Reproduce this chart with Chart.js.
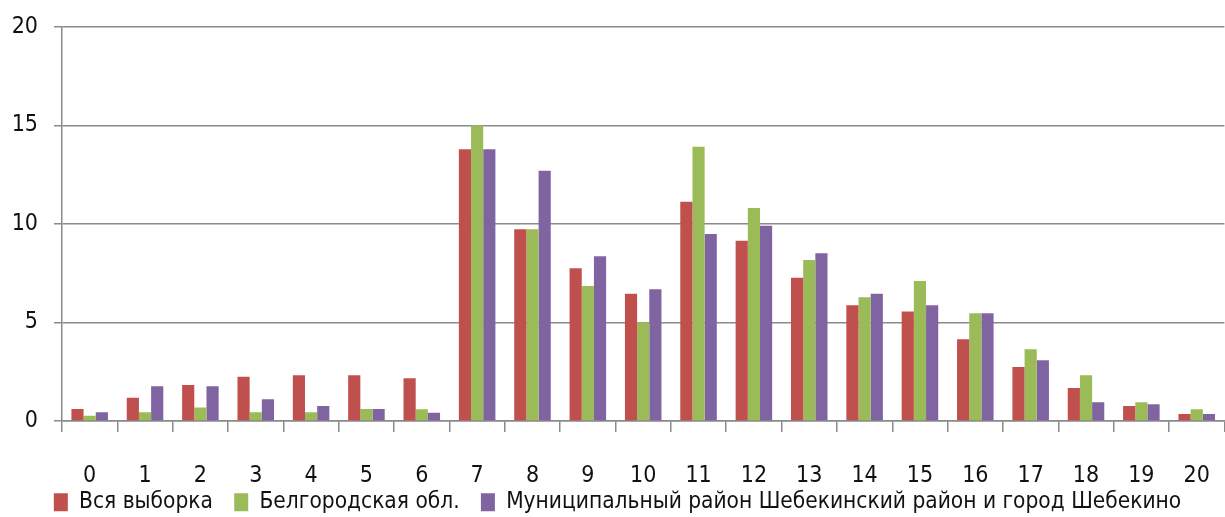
<!DOCTYPE html>
<html lang="ru">
  <head>
    <meta charset="utf-8" />
    <title>Распределение</title>
    <style>
      * {
        margin: 0;
        padding: 0;
      }
      body {
        overflow: hidden;
        background: #fff;
      }
      .chartBox {
        width: 1240px;
        height: 520px;
        margin-top: -3px;
      }
    </style>
  </head>
  <body>
    <div class="chartBox">
      <canvas id="myChart"></canvas>
    </div>

    <script src="https://cdn.jsdelivr.net/npm/chart.js"></script>

    <script>
      // data block
      const labels = ["0", "1", "2", "3", "4", "5", "6", "7", "8", "9", "10",
        "11", "12", "13", "14", "15", "16", "17", "18", "19", "20"];
      const seriesNames = [
        "Вся выборка",
        "Белгородская обл.",
        "Муниципальный район Шебекинский район и город Шебекино",
      ];
      const vsyaVyborka = [0.61, 1.18, 1.83, 2.25, 2.32, 2.32, 2.17, 13.79, 9.73, 7.75, 6.45,
        11.13, 9.15, 7.27, 5.87, 5.55, 4.15, 2.74, 1.68, 0.76, 0.36];
      const belgorodObl = [0.27, 0.44, 0.69, 0.44, 0.44, 0.61, 0.59, 15.0, 9.73, 6.85, 5.01,
        13.92, 10.81, 8.17, 6.28, 7.1, 5.47, 3.64, 2.32, 0.95, 0.59];
      const shebekino = [0.44, 1.76, 1.76, 1.1, 0.76, 0.61, 0.42, 13.79, 12.7, 8.36, 6.68,
        9.49, 9.9, 8.51, 6.45, 5.87, 5.47, 3.08, 0.95, 0.85, 0.36];
      const yTicks = [0, 5, 10, 15, 20];

      const fontFamily = "'DejaVu Sans Condensed', 'DejaVu Sans', sans-serif";
      const gridColor = "#8a8a8a";

      Chart.defaults.font.family = fontFamily;
      Chart.defaults.color = "#111";

      const data = {
        labels,
        datasets: [
          { label: seriesNames[0], data: vsyaVyborka, backgroundColor: "#C0504D" },
          { label: seriesNames[1], data: belgorodObl, backgroundColor: "#9BBB59" },
          { label: seriesNames[2], data: shebekino, backgroundColor: "#8064A2" },
        ].map((d) => ({ ...d, borderWidth: 0, barPercentage: 1, categoryPercentage: 0.66 })),
      };

      // config block
      const config = {
        type: "bar",
        data,
        options: {
          responsive: true,
          maintainAspectRatio: false,
          animation: false,
          layout: { padding: { left: 0, right: 5, top: 0, bottom: 0 } },
          scales: {
            x: {
              offset: true,
              grid: {
                drawOnChartArea: false,
                drawTicks: true,
                tickLength: 11,
                color: gridColor,
                lineWidth: 1.5,
                offset: true,
              },
              border: { color: gridColor, width: 1.5 },
              ticks: { font: { size: 23 }, padding: 30, maxRotation: 0 },
              // room for the labels, the legend sits right under them
              afterFit(scale) {
                scale.height = 68;
              },
            },
            y: {
              min: 0,
              max: 20,
              afterBuildTicks(scale) {
                scale.ticks = yTicks.map((v) => ({ value: v }));
              },
              grid: { color: gridColor, lineWidth: 1.5, tickLength: 8 },
              border: { color: gridColor, width: 1.5 },
              ticks: { font: { size: 23 }, padding: 16 },
              afterFit(scale) {
                scale.width = 62;
              },
            },
          },
          plugins: {
            tooltip: { enabled: false },
            legend: {
              position: "bottom",
              maxHeight: 28,
              labels: {
                boxWidth: 14,
                boxHeight: 18,
                padding: 2,
                font: { size: 22.5 },
                color: "#111",
                // small padding keeps the legend low, spaces give the gap between items
                generateLabels(chart) {
                  const items = Chart.defaults.plugins.legend.labels.generateLabels(chart);
                  items.forEach((it, i) => {
                    if (i < items.length - 1) it.text += "   ";
                  });
                  return items;
                },
              },
            },
          },
        },
      };

      // init render block
      const myChart = new Chart(document.getElementById("myChart"), config);
    </script>
  </body>
</html>
